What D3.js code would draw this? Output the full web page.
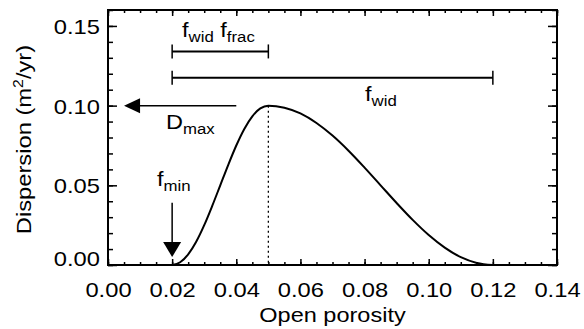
<!DOCTYPE html>
<html><head><meta charset="utf-8">
<script src="https://cdn.jsdelivr.net/npm/d3@7"></script>
<style>body{margin:0;background:#fff}svg{display:block}text{font-family:"Liberation Sans",Arial,sans-serif;fill:#000}</style>
</head><body><svg id="c" width="584" height="329"></svg>
<script>
// ---- data ----
const xTicks = [0.00, 0.02, 0.04, 0.06, 0.08, 0.10, 0.12, 0.14];
const xTickLabels = ["0.00","0.02","0.04","0.06","0.08","0.10","0.12","0.14"];
const yTicks = [0.00, 0.05, 0.10, 0.15];
const yTickLabels = ["0.00","0.05","0.10","0.15"];
const porosity = [0.02,0.0225,0.025,0.0275,0.03,0.0325,0.035,0.0375,0.04,0.0425,0.045,0.0475,0.05,
                  0.055,0.06,0.065,0.07,0.075,0.08,0.085,0.09,0.095,0.10,0.105,0.11,0.115,0.12];
const dispersion = [0,0.0017,0.0067,0.0146,0.025,0.0371,0.05,0.0629,0.075,0.0854,0.0933,0.0983,0.1,
                    0.0987,0.0951,0.0891,0.0812,0.0717,0.0611,0.05,0.0389,0.0283,0.0188,0.0109,0.0049,0.0013,0];
const fMin = 0.02, fPeak = 0.05, fMax = 0.12, dMax = 0.10;
const barFrac = [0.02, 0.05], barFracY = 0.134;
const barWid = [0.02, 0.12], barWidY = 0.1175;
const dmaxArrow = [0.04, 0.005];      // x from -> to at y = dMax
const fminArrow = [0.039, 0.005];     // y from -> to at x = fMin

// ---- layout ----
const W = 584, H = 329;
const m = {l:108, r:27, t:10, b:64};
const x = d3.scaleLinear().domain([0,0.14]).range([m.l, W-m.r]);
const y = d3.scaleLinear().domain([0,0.16]).range([H-m.b, m.t]);
const svg = d3.select("#c");
const SX = 1.13;

// frame
svg.append("rect").attr("x",x(0)).attr("y",y(0.16)).attr("width",x(0.14)-x(0)).attr("height",y(0)-y(0.16))
  .attr("fill","none").attr("stroke","#000").attr("stroke-width",2);

const xMinor = d3.range(0, 0.1401, 0.005).map(v=>+v.toFixed(3));
const yMinor = d3.range(0, 0.1601, 0.01).map(v=>+v.toFixed(3));

function ticksOnly(axis){ return g => { g.call(axis); g.select(".domain").remove(); g.selectAll("text").remove(); g.selectAll("line").attr("stroke","#000").attr("stroke-width",1.5); }; }
// bottom
svg.append("g").attr("transform",`translate(0,${y(0)})`).call(ticksOnly(d3.axisBottom(x).tickValues(xMinor).tickSizeInner(-3).tickSizeOuter(0)));
const gx = svg.append("g").attr("transform",`translate(0,${y(0)})`)
  .call(d3.axisBottom(x).tickValues(xTicks).tickFormat((d,i)=>xTickLabels[i]).tickSizeInner(-6).tickSizeOuter(0));
gx.select(".domain").remove();
gx.selectAll("line").attr("stroke","#000").attr("stroke-width",1.5);
gx.selectAll("text").attr("y",32).attr("dy",0).attr("font-size",21).attr("transform",`scale(${SX},1)`);
// top
svg.append("g").attr("transform",`translate(0,${y(0.16)})`).call(ticksOnly(d3.axisTop(x).tickValues(xMinor).tickSizeInner(-3).tickSizeOuter(0)));
svg.append("g").attr("transform",`translate(0,${y(0.16)})`).call(ticksOnly(d3.axisTop(x).tickValues(xTicks).tickSizeInner(-6).tickSizeOuter(0)));
// left
svg.append("g").attr("transform",`translate(${x(0)},0)`).call(ticksOnly(d3.axisLeft(y).tickValues(yMinor).tickSizeInner(-5).tickSizeOuter(0)));
const gy = svg.append("g").attr("transform",`translate(${x(0)},0)`)
  .call(d3.axisLeft(y).tickValues(yTicks).tickFormat((d,i)=>yTickLabels[i]).tickSizeInner(-9).tickSizeOuter(0));
gy.select(".domain").remove();
gy.selectAll("line").attr("stroke","#000").attr("stroke-width",1.5);
gy.selectAll("text").attr("x",-8/SX).attr("dy",(d,i)=> i===0 ? "0" : "0.36em").attr("font-size",21).attr("transform",`scale(${SX},1)`);
// right
svg.append("g").attr("transform",`translate(${x(0.14)},0)`).call(ticksOnly(d3.axisRight(y).tickValues(yMinor).tickSizeInner(-5).tickSizeOuter(0)));
svg.append("g").attr("transform",`translate(${x(0.14)},0)`).call(ticksOnly(d3.axisRight(y).tickValues(yTicks).tickSizeInner(-9).tickSizeOuter(0)));

// axis titles
svg.append("text").attr("transform",`translate(${(x(0)+x(0.14))/2},322) scale(1.12,1)`).attr("text-anchor","middle").attr("font-size",21).text("Open porosity");
const yt = svg.append("text").attr("transform",`translate(31,${(y(0)+y(0.16))/2 + 2}) rotate(-90) scale(1.13,1)`).attr("text-anchor","middle").attr("font-size",21);
yt.append("tspan").text("Dispersion (m");
yt.append("tspan").attr("font-size",14).attr("dy",-8).text("2");
yt.append("tspan").attr("dy",8).text("/yr)");

// dotted line at peak
svg.append("line").attr("x1",x(fPeak)).attr("x2",x(fPeak)).attr("y1",y(dMax)).attr("y2",y(0))
  .attr("stroke","#000").attr("stroke-width",1.3).attr("stroke-dasharray","2,3");

// curve
const line = d3.line().x((d,i)=>x(porosity[i])).y(d=>y(d)).curve(d3.curveMonotoneX);
svg.append("path").attr("d",line(dispersion)).attr("fill","none").attr("stroke","#000").attr("stroke-width",2);

// bars
function bar(r, yv){
  svg.append("line").attr("x1",x(r[0])).attr("x2",x(r[1])).attr("y1",y(yv)).attr("y2",y(yv)).attr("stroke","#000").attr("stroke-width",2);
  r.forEach(v=>svg.append("line").attr("x1",x(v)).attr("x2",x(v)).attr("y1",y(yv)-7).attr("y2",y(yv)+7).attr("stroke","#000").attr("stroke-width",1.5));
}
bar(barFrac, barFracY);
bar(barWid, barWidY);

// D_max arrow
const hx = x(dmaxArrow[1]), hy = y(dMax);
svg.append("line").attr("x1",x(dmaxArrow[0])).attr("x2",hx+14).attr("y1",hy).attr("y2",hy).attr("stroke","#000").attr("stroke-width",1.5);
svg.append("path").attr("d",`M${hx},${hy} L${hx+16},${hy-7.5} L${hx+16},${hy+7.5} Z`).attr("fill","#000");
// f_min arrow
const vx = x(fMin), vy = y(fminArrow[1]);
svg.append("line").attr("x1",vx).attr("x2",vx).attr("y1",y(fminArrow[0])).attr("y2",vy-14).attr("stroke","#000").attr("stroke-width",1.5);
svg.append("path").attr("d",`M${vx},${vy} L${vx-9},${vy-15} L${vx+9},${vy-15} Z`).attr("fill","#000");

// labels with subscripts
function label(px, py, parts){
  const t = svg.append("text").attr("transform",`translate(${px},${py}) scale(1.12,1)`).attr("font-size",21);
  parts.forEach(p=>{
    if(p.sub) t.append("tspan").attr("font-size",15).attr("dy",5).text(p.sub);
    else t.append("tspan").attr("dy", p.reset ? -5 : 0).text(p.t);
  });
}
label(182, 37, [{t:"f"},{sub:"wid"},{t:" f",reset:true},{sub:"frac"}]);
label(365, 101, [{t:"f"},{sub:"wid"}]);
label(166, 129, [{t:"D"},{sub:"max"}]);
label(157, 186, [{t:"f"},{sub:"min"}]);
</script></body></html>
